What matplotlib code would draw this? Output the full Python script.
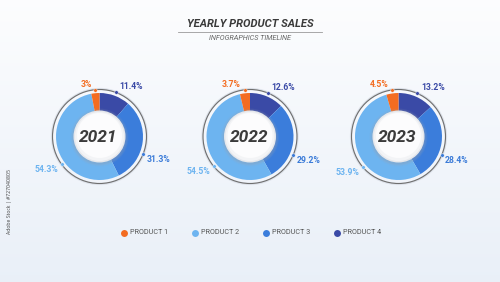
import numpy as np
import matplotlib
matplotlib.use("Agg")
import matplotlib.pyplot as plt
from matplotlib.patches import Circle

years = ['2021', '2022', '2023']
products = ['PRODUCT 1', 'PRODUCT 2', 'PRODUCT 3', 'PRODUCT 4']
p1 = [3.0, 3.7, 4.5]
p2 = [54.3, 54.5, 53.9]
p3 = [31.3, 29.2, 28.4]
p4 = [11.4, 12.6, 13.2]

colors = {'PRODUCT 1': '#F36C21', 'PRODUCT 2': '#6DB4F0',
          'PRODUCT 3': '#3B7DDB', 'PRODUCT 4': '#3A4AA6'}
label_colors = {'PRODUCT 1': '#F36C21', 'PRODUCT 2': '#6DB4F0',
                'PRODUCT 3': '#3B7BD8', 'PRODUCT 4': '#3A4AA6'}
angle_shift = {'PRODUCT 1': 0, 'PRODUCT 2': 18, 'PRODUCT 3': -15, 'PRODUCT 4': 0}

plt.rcParams['font.family'] = ['Roboto', 'DejaVu Sans']

W, H = 500, 282
fig = plt.figure(figsize=(5, 2.82), dpi=100)
ax = fig.add_axes([0, 0, 1, 1])

def Y(y):
    return H - y

# background gradient
grad = np.linspace(0, 1, 256)[:, None]
top = np.array([0.99, 0.992, 0.997])
bot = np.array([0.915, 0.94, 0.972])
img = top[None, None, :] * (1 - grad[:, :, None]) + bot[None, None, :] * grad[:, :, None]
img = np.repeat(img, 2, axis=1)
ax.imshow(img, extent=[0, W, 0, H], aspect='auto', origin='upper', zorder=0)

# title
ax.text(250, Y(24), 'YEARLY PRODUCT SALES', ha='center', va='center', fontsize=8,
        fontweight='bold', fontstyle='italic', color='#3a3a3a', zorder=5)
ax.plot([178, 322], [Y(32), Y(32)], color='#9a9a9a', lw=0.6, zorder=5)
ax.text(250, Y(38), 'INFOGRAPHICS TIMELINE', ha='center', va='center', fontsize=5.2,
        fontstyle='italic', color='#666666', zorder=5)

centers_x = [99.5, 250, 398.5]
cy = Y(136.5)
R = 43.5

series = {'PRODUCT 1': p1, 'PRODUCT 2': p2, 'PRODUCT 3': p3, 'PRODUCT 4': p4}
order = ['PRODUCT 4', 'PRODUCT 3', 'PRODUCT 2', 'PRODUCT 1']

for i, yr in enumerate(years):
    cx = centers_x[i]
    vals = [series[p][i] for p in order]
    # outer thin ring
    ax.add_patch(Circle((cx, cy), 47.5, fill=False, ec='#dde2ea', lw=1.6, zorder=1))
    ax.add_patch(Circle((cx, cy), 47, fill=False, ec='#6f6f6f', lw=0.8, zorder=2))
    ax.pie(vals, colors=[colors[p] for p in order], startangle=90,
           counterclock=False, center=(cx, cy), radius=R,
           wedgeprops=dict(width=24, linewidth=0, zorder=3), frame=True)
    # inner white disc with shadow
    for r, c, a in [(29, '#9aa6b8', 0.10), (28, '#9aa6b8', 0.15), (27, '#8d99ab', 0.2)]:
        ax.add_patch(Circle((cx, cy - 1), r, color=c, alpha=a, lw=0, zorder=4))
    ax.add_patch(Circle((cx, cy), 26, color='#e6e8ec', lw=0, zorder=5))
    ax.add_patch(Circle((cx, cy), 24.5, color='#f3f4f6', lw=0, zorder=5))
    ax.add_patch(Circle((cx, cy + 1), 22.5, color='#fcfcfd', lw=0, zorder=5))
    ax.text(cx - 1, cy - 0.5, yr, ha='center', va='center', fontsize=12.5,
            fontweight='bold', fontstyle='italic', color='#3b3b3b', zorder=6)
    # labels
    cum = 0.0
    for p, v in zip(order, vals):
        mid = 90 - (cum + v / 2) * 3.6 + angle_shift[p]
        cum += v
        a = np.deg2rad(mid)
        dx, dy = np.cos(a), np.sin(a)
        px, py = cx + 47 * dx, cy + 47 * dy
        ax.plot(px, py, 'o', ms=2.6, color=label_colors[p], mec='white', mew=0.3, zorder=7)
        sx = 1 if dx > 0 else -1
        sy = 1 if dy > 0 else -1
        ax.text(px + sx * 3.5, py + sy * 5.5, f'{v:g}%', ha='left' if sx > 0 else 'right',
                va='center', fontsize=6.2, fontweight='bold', color=label_colors[p], zorder=7)

# legend
leg_x = [124, 195, 266, 337]
for p, lx in zip(products, leg_x):
    ax.plot(lx, Y(233), 'o', ms=5, color=colors[p], mec='none', zorder=7)
    ax.text(lx + 6, Y(233), p, ha='left', va='center', fontsize=5.2, color='#555555', zorder=7)

# side stock id
ax.text(10, Y(202), 'Adobe Stock | #727040805', rotation=90, ha='center', va='center',
        fontsize=3.7, color='#444444', family=['Open Sans', 'DejaVu Sans'], zorder=7)

ax.set_xlim(0, W)
ax.set_ylim(0, H)
ax.set_aspect('auto')
ax.set_axis_off()
fig.savefig('out.png', dpi=100)
